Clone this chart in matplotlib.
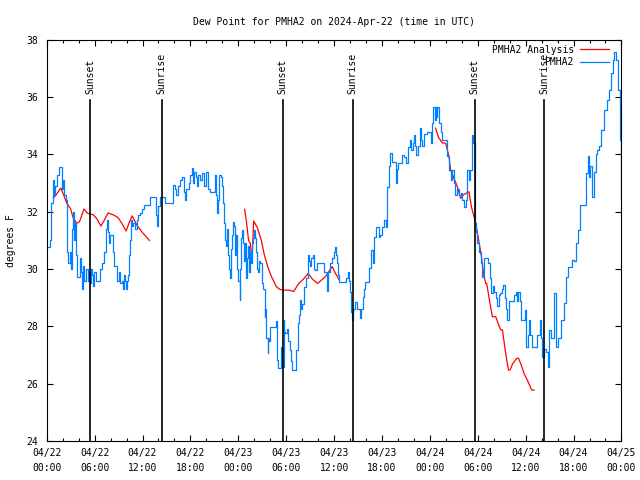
import numpy as np
import matplotlib
matplotlib.use("Agg")
import matplotlib.pyplot as plt
import matplotlib.dates as mdates

plt.rcParams['font.family'] = ['DejaVu Sans Mono']
plt.rcParams['font.size'] = 7

# hours after 2024-04-22 00:00 UTC
blue_hours = [0.2, 0.41, 0.54, 0.75, 0.85, 1.04, 1.29, 1.48, 1.76, 1.86, 1.98, 2.17, 2.36, 2.48, 2.55,
              2.67, 2.8, 2.92, 3.05, 3.17, 3.3, 3.42, 3.55, 3.68, 3.76, 4.05, 4.18, 4.3, 4.43, 4.55,
              4.68, 4.93, 5.18, 5.3, 5.43, 5.56, 5.68, 5.81, 5.93, 6.19, 6.44, 6.69, 6.94, 7.19, 7.44,
              7.53, 7.69, 7.82, 7.94, 8.19, 8.32, 8.44, 8.69, 8.82, 9.07, 9.2, 9.45, 9.57, 9.7, 9.82,
              9.95, 10.07, 10.2, 10.32, 10.45, 10.57, 10.7, 10.82, 11.07, 11.32, 11.45, 11.7, 11.95,
              12.2, 12.58, 12.96, 13.59, 13.72, 13.84, 13.97, 14.22, 14.6, 14.85, 15.47,
              15.72, 15.88, 16.1, 16.22, 16.47, 16.72, 16.94, 17.1, 17.2, 17.35, 17.5, 17.73, 17.87,
              17.98, 18.19, 18.35, 18.48, 18.73, 18.86, 18.99, 19.24, 19.49, 19.74, 19.99, 20.24,
              20.49, 20.87, 21.12, 21.24, 21.37, 21.5, 21.62, 21.87, 22.0, 22.12, 22.25, 22.37, 22.5,
              22.62, 22.75, 22.87, 23.0, 23.12, 23.25, 23.38, 23.5, 23.63, 23.75, 23.88, 24.0, 24.16,
              24.25, 24.38, 24.5, 24.62, 24.75, 24.88, 25.0, 25.13, 25.26, 25.38, 25.51, 25.63, 25.76,
              25.88, 26.01, 26.13, 26.26, 26.38, 26.47, 26.64, 26.76, 26.98, 27.14, 27.3, 27.39,
              27.52, 27.68, 27.77, 27.89, 28.02, 28.39, 28.64, 28.77, 28.86, 29.02, 29.27, 29.4,
              29.52, 29.69, 29.77, 29.9, 30.15, 30.27, 30.52, 30.65, 30.77, 31.02, 31.24, 31.44,
              31.65, 31.78, 31.9, 32.03, 32.28, 32.47, 32.7, 32.91, 33.03, 33.16, 33.32, 33.47, 33.66,
              33.91, 34.03, 34.62, 34.72, 34.92, 35.13, 35.29, 35.54, 35.79, 36.04, 36.17, 36.29,
              36.42, 36.54, 36.67, 37.42, 37.55, 37.71, 37.86, 38.05, 38.17, 38.26, 38.42, 38.67,
              38.92, 39.2, 39.42, 39.63, 39.79, 39.92, 40.17, 40.43, 40.68, 40.84, 41.05, 41.26,
              41.43, 41.59, 41.8, 42.0, 42.23, 42.45, 42.66, 42.82, 42.99, 43.2, 43.45, 43.7, 43.82,
              43.95, 44.2, 44.54, 44.7, 44.96, 45.25, 45.5, 45.67, 45.84, 46.0, 46.15, 46.3, 46.53,
              46.75, 46.9, 47.05, 47.21, 47.59, 47.97, 48.09, 48.3, 48.43, 48.59, 48.73, 48.85,
              48.93, 49.14, 49.35, 49.54, 49.85, 50.19, 50.39, 50.6, 50.79, 51.02, 51.17, 51.42,
              51.6, 51.85, 52.04, 52.27, 52.48, 52.7, 52.9, 53.02, 53.24, 53.45, 53.61, 53.8, 53.95,
              54.12, 54.37, 54.58, 54.74, 55.12, 55.31, 55.5, 55.71, 55.87, 56.06, 56.25, 56.46,
              56.62, 56.81, 57.0, 57.21, 57.37, 57.56, 57.71, 57.88, 58.34, 58.54, 58.76, 58.88,
              59.07, 59.26, 59.38, 59.8, 59.89, 60.1, 60.26, 60.43, 60.58, 60.77, 61.27, 61.46,
              61.77, 61.9, 62.11, 62.34, 62.53, 62.74, 62.94, 63.15, 63.34, 63.57, 63.78, 63.99,
              64.32, 64.49, 64.82, 65.03, 65.34, 65.78, 66.03, 66.28, 66.57, 66.82, 67.25, 67.54,
              67.83, 67.98, 68.1, 68.29, 68.54, 68.79, 69.0, 69.22, 69.41, 69.83, 70.17, 70.45,
              70.67, 70.92, 71.08, 71.3, 71.59, 71.84, 72.0]
blue_vals = [30.78, 31.0, 32.3, 33.1, 32.6, 32.9, 33.3, 33.58, 33.58, 32.8, 33.1, 32.6, 32.4, 31.3, 30.6,
             30.2, 30.2, 30.6, 30.0, 31.4, 32.0, 31.0, 31.6, 30.5, 29.74, 29.74, 30.4, 29.9, 29.3, 30.1,
             29.6, 30.0, 29.6, 29.9, 29.5, 30.0, 29.8, 29.4, 29.9, 29.6, 29.6, 30.0, 30.2, 30.6, 31.4,
             31.7, 31.3, 30.9, 31.2, 31.2, 30.6, 30.1, 30.1, 29.6, 29.9, 29.5, 29.6, 29.3, 29.8, 29.6,
             29.3, 29.6, 29.8, 30.5, 31.0, 31.7, 31.5, 31.6, 31.4, 31.7, 31.9, 31.96, 32.1,
             32.24, 32.24, 32.5, 32.5, 31.9, 31.5, 32.2, 32.5, 32.5, 32.3, 32.3,
             32.3, 32.94, 32.8, 32.6, 32.9, 33.1, 33.23, 33.2, 32.7, 32.4, 32.8, 32.8, 33.0,
             33.3, 33.52, 33.0, 33.4, 33.2, 32.9, 33.3, 33.1, 33.36, 32.9, 33.4, 32.8,
             32.7, 32.7, 33.3, 32.6, 31.95, 32.4, 33.3, 33.2, 32.9, 32.3, 31.6, 31.0, 30.8,
             31.4, 30.5, 30.0, 29.7, 30.7, 31.2, 31.66, 31.5, 30.5, 31.2, 30.0, 29.6, 28.92,
             30.0, 31.1, 31.36, 30.9, 30.3, 30.9, 29.7, 30.4, 30.8, 29.9, 30.6, 30.2, 30.9,
             31.1, 31.36, 31.1, 30.6, 30.0, 29.9, 30.3, 30.2, 29.5, 29.3, 28.34, 28.6,
             27.6, 27.06, 27.6, 27.5, 27.99, 27.99, 27.99, 28.2, 26.83, 26.54, 26.54, 27.3,
             26.6, 28.22, 27.8, 27.77, 27.9, 27.5, 27.18, 26.8, 26.48, 26.48, 27.18, 28.11,
             28.4, 28.92, 28.6, 28.8, 29.39, 29.7, 30.49, 30.3, 30.1, 30.4, 30.5, 30.0, 29.97,
             30.2, 30.2, 30.2, 29.9, 29.9, 29.22, 29.9, 30.2, 30.4, 30.6, 30.78, 30.5,
             30.2, 29.8, 29.56, 29.56, 29.7, 29.9, 29.6, 29.21, 28.5, 28.22, 28.6, 28.86,
             28.6, 28.28, 28.6, 29.04, 29.3, 29.56, 29.56, 30.03, 30.67, 30.2, 31.13, 31.48,
             31.48, 31.13, 31.2, 31.48, 31.71, 31.48, 32.88, 33.6, 34.04, 33.75, 33.75, 33.0, 33.5,
             33.7, 33.7, 33.98, 33.9, 33.7, 34.27, 34.5, 34.15, 34.4, 34.68, 34.3, 33.98, 34.3,
             34.92, 34.5, 34.3, 34.7, 34.8, 34.8, 34.4, 35.1, 35.67, 35.2, 35.67, 35.3,
             35.67, 35.1, 34.8, 34.5, 34.5, 33.93, 33.46, 33.11, 33.46, 33.0, 32.59, 32.8,
             32.59, 32.65, 32.4, 32.18, 32.4, 33.46, 33.11, 33.46, 34.68, 34.4, 31.6, 31.3, 30.9,
             30.6, 30.2, 29.74, 30.38, 30.38, 30.2, 29.7, 29.16, 29.4, 29.2, 29.0, 28.7,
             29.1, 29.16, 29.3, 29.45, 29.0, 28.6, 28.22, 28.9, 28.9, 29.1, 29.2, 28.9,
             29.21, 28.9, 28.22, 28.22, 28.57, 27.29, 27.7, 28.22, 27.7, 27.3, 27.3, 27.7,
             28.22, 27.6, 26.94, 27.2, 27.1, 26.6, 27.88, 27.6, 27.6, 29.16, 27.3, 27.6,
             27.6, 28.22, 28.81, 29.74, 30.09, 30.32, 30.3, 30.9, 31.37, 32.24, 32.24, 33.35,
             33.93, 33.2, 33.6, 32.53, 33.4, 34.0, 34.16, 34.3, 34.86, 35.56, 35.9, 36.26,
             36.84, 37.3, 37.59, 37.3, 36.26, 34.5, 32.53]

red1_hours = [0.83, 1.2, 1.76, 2.1, 2.51, 3.0, 3.3, 3.76, 4.1, 4.68, 5.1, 5.81, 6.3, 6.78, 7.2, 7.69,
              8.3, 8.94, 9.4, 9.95, 10.3, 10.7, 11.29, 11.92, 12.4, 12.87]
red1_vals = [32.48, 32.6, 32.83, 32.6, 32.3, 32.1, 31.8, 31.6, 31.65, 32.1, 31.95, 31.9, 31.75, 31.5,
             31.7, 31.96, 31.9, 31.8, 31.6, 31.33, 31.6, 31.86, 31.54, 31.3, 31.15, 31.0]
red2_hours = [24.79, 25.0, 25.29, 25.5, 25.72, 25.92, 26.38, 26.89, 27.26, 27.68, 28.14, 28.77, 29.15,
              29.61, 30.31, 30.94, 31.57, 32.16, 32.75, 33.29, 33.95, 34.42, 34.92, 35.76, 36.17, 36.67]
red2_vals = [32.09, 31.7, 31.0, 30.9, 30.26, 31.68, 31.45, 31.0, 30.5, 30.09, 29.75, 29.39, 29.3,
             29.27, 29.27, 29.22, 29.5, 29.65, 29.85, 29.65, 29.5, 29.62, 29.74, 30.09, 29.85, 29.62]
red3_hours = [48.71, 49.08, 49.56, 49.98, 50.39, 50.6, 51.02, 51.44, 51.85, 52.23, 52.9, 53.2, 53.74,
              54.12, 54.46, 54.75, 55.0, 55.12, 55.53, 55.83, 56.25, 56.56, 56.87, 57.09, 57.5,
              57.84, 58.04, 58.38, 58.88, 59.1, 59.39, 59.8, 60.26, 60.76, 61.05]
red3_vals = [34.92, 34.6, 34.4, 34.4, 33.93, 33.46, 33.17, 32.88, 32.47, 32.6, 32.7, 32.18, 31.6,
             31.0, 30.44, 29.8, 29.5, 29.5, 28.81, 28.34, 28.34, 28.1, 27.88, 27.88, 27.06,
             26.48, 26.48, 26.7, 26.89, 26.89, 26.7, 26.36, 26.1, 25.78, 25.78]

sun_hours = [5.45, 14.42, 29.58, 38.35, 53.62, 62.3]
sun_labels = ["Sunset", "Sunrise", "Sunset", "Sunrise", "Sunset", "Sunrise"]

start = np.datetime64('2024-04-22T00:00')


def to_time(hours):
    return start + (np.array(hours) * 3600).astype('timedelta64[s]')


fig = plt.figure(figsize=(6.4, 4.8), dpi=100)
ax = fig.add_axes([0.073, 0.081, 0.898, 0.836])

red = '#ff0000'
blue = '#0080ff'
ax.plot(to_time(red1_hours), red1_vals, color=red, lw=0.9, label='PMHA2 Analysis')
ax.plot(to_time(red2_hours), red2_vals, color=red, lw=0.9)
ax.plot(to_time(red3_hours), red3_vals, color=red, lw=0.9)
ax.plot(to_time(blue_hours), blue_vals, color=blue, lw=0.9, drawstyle='steps-post', label='PMHA2')

for h, lab in zip(sun_hours, sun_labels):
    t = to_time([h])[0]
    ax.plot([t, t], [24, 35.9], color='black', lw=1.2)
    ax.text(t, 36.12, lab, rotation=90, ha='center', va='bottom', fontsize=7)

ax.set_xlim(start, start + np.timedelta64(72, 'h'))
ax.set_ylim(24, 38)
ax.set_yticks(np.arange(24, 39, 2))
ax.xaxis.set_major_locator(mdates.HourLocator(byhour=[0, 6, 12, 18]))
ax.xaxis.set_minor_locator(mdates.HourLocator(interval=2))
ax.xaxis.set_major_formatter(mdates.DateFormatter('%m/%d\n%H:%M'))

ax.tick_params(which='both', direction='in', top=True, right=True, width=0.8)
ax.tick_params(which='major', length=4)
ax.tick_params(which='minor', length=2)
ax.tick_params(axis='y', pad=6)
ax.tick_params(axis='x', pad=5)
for lbl in ax.get_xticklabels():
    lbl.set_linespacing(1.6)
for s in ax.spines.values():
    s.set_linewidth(0.8)

ax.set_title('Dew Point for PMHA2 on 2024-Apr-22 (time in UTC)', fontsize=7, pad=11)
ax.set_ylabel('degrees F', fontsize=7, labelpad=8)
ax.legend(loc='upper right', bbox_to_anchor=(0.983, 0.995), markerfirst=False, frameon=False,
          fontsize=7, handlelength=3.0, handletextpad=0.6, borderaxespad=0, labelspacing=0.25,
          borderpad=0.3)

fig.savefig('out.png', dpi=100)
